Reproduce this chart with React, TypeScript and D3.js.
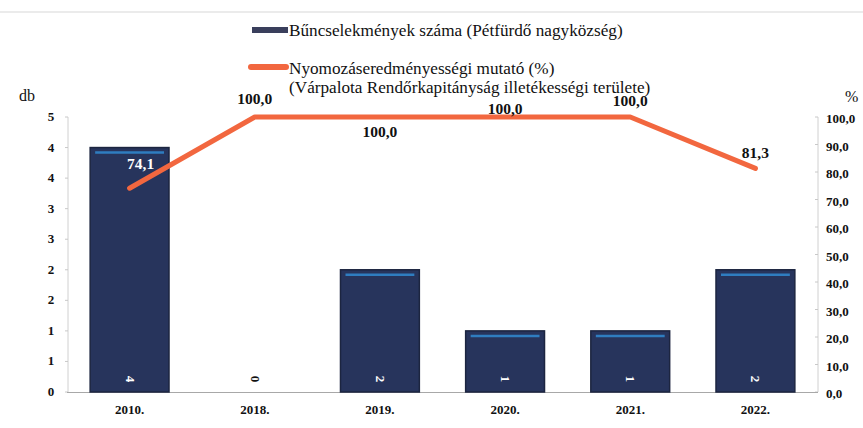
import * as d3 from 'd3'

// chart values
const years = ['2010.', '2018.', '2019.', '2020.', '2021.', '2022.']
const crimes = [4, 0, 2, 1, 1, 2]
const rate = [74.1, 100.0, 100.0, 100.0, 100.0, 81.3]
const leftTicks = [0, 0.5, 1, 1.5, 2, 2.5, 3, 3.5, 4, 4.5]
const rightTicks = [0, 10, 20, 30, 40, 50, 60, 70, 80, 90, 100]
// line value labels: offset from the point (dx, dy), as Excel placed them
const labelOffset: Array<[number, number]> = [
  [11, -19],
  [0, -13],
  [0, 20],
  [0, -3],
  [0, -11],
  [0, -10],
]

const W = 863
const H = 428
const MARGIN = { top: 117, right: 45, bottom: 36, left: 67 }
const FONT = "'Liberation Serif', 'DejaVu Serif', serif"
const NAVY = '#27345c'
const ORANGE = '#f2673f'

const fmt1 = (v: number) => v.toFixed(1).replace('.', ',')
const fmt0 = (v: number) => String(Math.floor(v + 0.5))

export default function App() {
  const x0 = MARGIN.left
  const xr = 818
  const y0 = H - MARGIN.bottom
  const y1 = MARGIN.top

  const xScale = d3.scaleBand<string>().domain(years).range([x0, xr]).paddingInner(0.37).paddingOuter(0.185)
  const yLeft = d3.scaleLinear().domain([0, 4.5]).range([y0, y1])
  const yRight = d3.scaleLinear().domain([0, 100]).range([y0, y1])

  const cx = (c: string) => (xScale(c) ?? 0) + xScale.bandwidth() / 2
  const line = d3
    .line<number>()
    .x((_, i) => cx(years[i]))
    .y((d) => yRight(d))

  return (
    <svg
      width={W}
      height={H}
      style={{ position: 'absolute', left: 0, top: 0, background: '#fff', fontFamily: FONT }}
    >
      <rect width={W} height={H} fill="#fff" />
      {/* faint scan line at top */}
      <line x1={0} x2={W} y1={12} y2={12} stroke="#e4e4e4" strokeWidth={1.5} />

      {/* legend */}
      <rect x={252} y={27} width={36} height={6} fill="#3a3f5c" />
      <text x={289} y={36} fontSize={17.2} fill="#111">
        Bűncselekmények száma (Pétfürdő nagyközség)
      </text>
      <line x1={251} x2={286} y1={67} y2={67} stroke={ORANGE} strokeWidth={6} strokeLinecap="round" />
      <text x={289} y={74} fontSize={17.2} fill="#111">
        Nyomozáseredményességi mutató (%)
      </text>
      <text x={289} y={93} fontSize={17.2} fill="#111">
        (Várpalota Rendőrkapitányság illetékességi területe)
      </text>

      {/* axis titles */}
      <text x={19} y={101} fontSize={16} fill="#111">
        db
      </text>
      <text x={845} y={102} fontSize={16} fill="#111">
        %
      </text>

      {/* left axis */}
      <line x1={x0 + 1} x2={x0 + 1} y1={y1} y2={y0} stroke="#d0d0d0" />
      {leftTicks.map((t) => (
        <g key={'l' + t}>
          <line x1={x0 - 2} x2={x0 + 1} y1={yLeft(t)} y2={yLeft(t)} stroke="#c8c8c8" />
          <text x={51} y={yLeft(t) + 4} fontSize={13} fontWeight="bold" textAnchor="middle" fill="#111">
            {fmt0(t)}
          </text>
        </g>
      ))}

      {/* right axis */}
      <line x1={xr} x2={xr} y1={y1} y2={y0} stroke="#d0d0d0" />
      {rightTicks.map((t) => (
        <g key={'r' + t}>
          <line x1={xr - 3} x2={xr} y1={yRight(t)} y2={yRight(t)} stroke="#c8c8c8" />
          <text x={826} y={yRight(t) + 6} fontSize={13} fontWeight="bold" fill="#111">
            {fmt1(t)}
          </text>
        </g>
      ))}

      {/* x axis */}
      <line x1={x0} x2={xr} y1={y0 + 0.5} y2={y0 + 0.5} stroke="#a8a8a8" strokeWidth={1.2} />
      {years.map((c) => (
        <text key={c} x={cx(c)} y={y0 + 22} fontSize={13} fontWeight="bold" textAnchor="middle" fill="#111">
          {c}
        </text>
      ))}

      {/* bars */}
      {crimes.map((v, i) => {
        const bx = xScale(years[i]) ?? 0
        const bw = xScale.bandwidth()
        const top = yLeft(v)
        return (
          <g key={'b' + i}>
            {v > 0 && (
              <>
                <rect x={bx} y={top} width={bw} height={y0 - top} fill={NAVY} stroke="#1c2540" strokeWidth={1.5} />
                <line x1={bx + 5} x2={bx + bw - 5} y1={top + 5} y2={top + 5} stroke="#2f7dc0" strokeWidth={2.5} />
              </>
            )}
            <text
              transform={`translate(${cx(years[i])},${y0 - 13}) rotate(90)`}
              fontSize={13}
              fontWeight="bold"
              textAnchor="middle"
              dy={4}
              fill={v > 0 ? '#fff' : '#111'}
            >
              {v}
            </text>
          </g>
        )
      })}

      {/* line */}
      <path d={line(rate) ?? ''} fill="none" stroke={ORANGE} strokeWidth={5} strokeLinecap="round" strokeLinejoin="round" />

      {/* line value labels */}
      {rate.map((v, i) => (
        <text
          key={'v' + i}
          x={cx(years[i]) + labelOffset[i][0]}
          y={yRight(v) + labelOffset[i][1]}
          fontSize={15.5}
          fontWeight="bold"
          textAnchor="middle"
          fill={i === 0 ? '#fff' : '#111'}
        >
          {fmt1(v)}
        </text>
      ))}
    </svg>
  )
}
